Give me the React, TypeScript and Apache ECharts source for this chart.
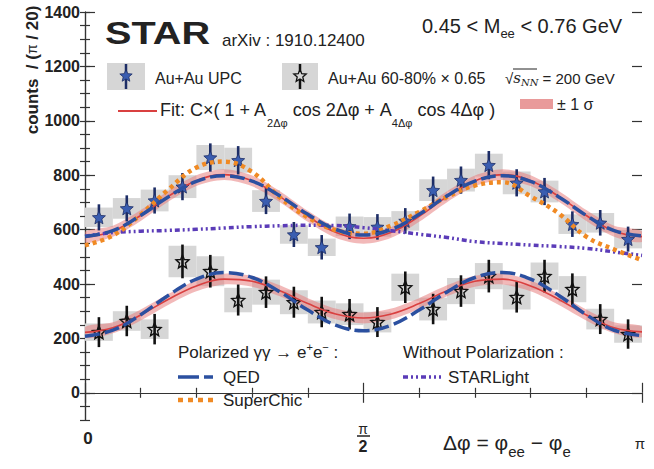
import React, { useEffect, useRef } from 'react';
import * as echarts from 'echarts';

// ---------------- data ----------------
const NBINS = 20;
const BIN_W = Math.PI / NBINS;
const binCenters = Array.from({ length: NBINS }, (_, i) => (i + 0.5) * BIN_W);
const curveX = Array.from({ length: 21 }, (_, k) => k * BIN_W);

// Au+Au UPC
const upcValues = [645, 678, 707, 758, 865, 855, 705, 582, 535, 612, 610, 632, 745, 782, 837, 772, 740, 620, 625, 565];
const upcStat = [48, 48, 48, 50, 52, 52, 48, 46, 45, 47, 47, 47, 50, 50, 52, 50, 50, 47, 47, 46];
const upcSys = [36, 38, 40, 42, 46, 46, 40, 34, 32, 36, 36, 36, 40, 42, 42, 42, 40, 36, 36, 34];

// Au+Au 60-80% x 0.65
const perValues = [223, 264, 234, 483, 447, 341, 370, 333, 297, 289, 260, 388, 308, 374, 429, 352, 429, 381, 271, 216];
const perStat = [55, 56, 56, 62, 60, 57, 58, 57, 56, 56, 55, 58, 56, 58, 60, 57, 60, 58, 55, 54];
const perSys = [32, 36, 36, 58, 55, 45, 46, 44, 42, 40, 38, 50, 42, 48, 48, 46, 50, 48, 38, 32];

// curves sampled at k*pi/20
const fitUpper = [572, 594, 652, 723, 780, 802, 779, 721, 649, 590, 568, 590, 649, 721, 779, 802, 780, 723, 652, 594, 574];
const qedUpper = [575, 596, 652, 721, 777, 798, 778, 724, 656, 601, 580, 601, 656, 724, 778, 798, 777, 721, 652, 596, 577];
const fitLower = [222, 239, 286, 344, 393, 418, 410, 375, 328, 290, 275, 290, 328, 375, 410, 418, 393, 344, 286, 239, 224];
const qedLower = [208, 230, 287, 359, 418, 442, 424, 371, 304, 249, 228, 249, 304, 371, 424, 442, 418, 359, 287, 230, 210];
const superChic = [542, 578, 655, 748, 828, 850, 812, 718, 645, 598, 585, 615, 665, 720, 762, 774, 722, 660, 574, 527, 488];
const starLight = [576, 589, 594, 597, 601, 606, 611, 614, 616, 615, 607, 596, 583, 571, 556, 549, 543, 538, 531, 518, 505];
const fitBandHalf = 20;

const yTickLabels = [0, 200, 400, 600, 800, 1000, 1200, 1400];

// ---------------- styles ----------------
const FONT = "'Liberation Sans', Arial, Helvetica, sans-serif";
const INK = '#222';
const BLUE = '#2b50a0';
const STAR_BLUE = '#3a5db0';
const RED = '#d94040';
const PINK = 'rgba(232,128,128,0.55)';
const ORANGE = '#f08a24';
const PURPLE = '#5b3cb8';
const GRAY = '#d6d6d6';

const starPath =
  'path://M0,-10L2.65,-3.64L9.51,-3.09L4.28,1.39L5.88,8.09L0,4.5L-5.88,8.09L-4.28,1.39L-9.51,-3.09L-2.65,-3.64Z';

function starPts(cx: number, cy: number, R: number) {
  const pts: number[][] = [];
  for (let i = 0; i < 10; i++) {
    const r = i % 2 === 0 ? R : R * 0.45;
    const a = -Math.PI / 2 + (i * Math.PI) / 5;
    pts.push([cx + r * Math.cos(a), cy + r * Math.sin(a)]);
  }
  return pts;
}

function txt(text: string, x: number, y: number, size: number, o: any = {}) {
  const align = o.align || 'left';
  return {
    type: 'text',
    x,
    y,
    z: 100,
    silent: true,
    rotation: o.rotation || 0,
    scaleX: o.scaleX || 1,
    style: {
      text,
      fill: INK,
      fontSize: size,
      fontFamily: FONT,
      fontWeight: o.bold ? 'bold' : 'normal',
      textAlign: align,
      align,
      textVerticalAlign: 'middle',
      verticalAlign: 'middle',
      rich: o.rich,
    },
  };
}

const sysBoxes = (vals: number[], sys: number[]) => ({
  type: 'custom',
  silent: true,
  clip: true,
  data: vals.map((v, i) => [binCenters[i], v, sys[i]]),
  encode: { x: 0, y: 1 },
  renderItem: (_p: any, api: any) => {
    const x = api.value(0), y = api.value(1), s = api.value(2);
    const a = api.coord([x - BIN_W / 2, y + s]);
    const b = api.coord([x + BIN_W / 2, y - s]);
    return {
      type: 'rect',
      shape: { x: a[0], y: a[1], width: b[0] - a[0], height: b[1] - a[1] },
      style: { fill: GRAY },
    };
  },
});

const band = (center: number[]) => ({
  type: 'custom',
  silent: true,
  clip: true,
  data: [[curveX[0], center[0]]],
  encode: { x: 0, y: 1 },
  renderItem: (_p: any, api: any) => {
    const top = curveX.map((x, k) => api.coord([x, center[k] + fitBandHalf]));
    const bot = curveX.map((x, k) => api.coord([x, center[k] - fitBandHalf])).reverse();
    return {
      type: 'polygon',
      shape: { points: top.concat(bot), smooth: 0.3 },
      style: { fill: PINK },
    };
  },
});

const curve = (vals: number[], color: string, width: number, dash: any) => ({
  type: 'line',
  silent: true,
  smooth: 0.4,
  showSymbol: false,
  symbol: 'none',
  data: curveX.map((x, k) => [x, vals[k]]),
  lineStyle: { color, width, type: dash },
});

const errBars = (vals: number[], err: number[], color: string) => ({
  type: 'custom',
  silent: true,
  clip: true,
  data: vals.map((v, i) => [binCenters[i], v, err[i]]),
  encode: { x: 0, y: 1 },
  renderItem: (_p: any, api: any) => {
    const x = api.value(0), y = api.value(1), e = api.value(2);
    const p1 = api.coord([x, y - e]);
    const p2 = api.coord([x, y + e]);
    return {
      type: 'line',
      shape: { x1: p1[0], y1: p1[1], x2: p2[0], y2: p2[1] },
      style: { stroke: color, lineWidth: 2.6 },
    };
  },
});

const axisLineStyle = { color: '#333', width: 1.2 };

const option: any = {
  animation: false,
  backgroundColor: '#fff',
  textStyle: { fontFamily: FONT },
  grid: [
    { left: 85, right: 12, top: 12, bottom: 49 },
    { left: 85, right: 12, top: 12, height: (1400 / 1500) * 408 },
  ],
  xAxis: [
    {
      gridIndex: 0, type: 'value', position: 'bottom', min: 0, max: Math.PI, interval: Math.PI / 2,
      axisLine: { show: true, lineStyle: axisLineStyle },
      axisTick: { show: true, inside: true, length: 10, lineStyle: axisLineStyle },
      minorTick: { show: true, splitNumber: 5, length: 5, lineStyle: axisLineStyle },
      axisLabel: { show: false }, splitLine: { show: false }, minorSplitLine: { show: false },
    },
    {
      gridIndex: 0, type: 'value', position: 'top', min: 0, max: Math.PI, interval: Math.PI / 2,
      axisLine: { show: true, lineStyle: axisLineStyle },
      axisTick: { show: true, inside: true, length: 10, lineStyle: axisLineStyle },
      minorTick: { show: true, splitNumber: 5, length: 5, lineStyle: axisLineStyle },
      axisLabel: { show: false }, splitLine: { show: false },
    },
    { gridIndex: 1, type: 'value', min: 0, max: Math.PI, show: false },
  ],
  yAxis: [
    {
      gridIndex: 0, type: 'value', position: 'left', min: -100, max: 1400, interval: 50,
      axisLine: { show: true, lineStyle: axisLineStyle },
      axisTick: { show: true, inside: true, length: 5, lineStyle: axisLineStyle },
      axisLabel: { show: false }, splitLine: { show: false },
    },
    {
      gridIndex: 0, type: 'value', position: 'right', min: -100, max: 1400, interval: 50,
      axisLine: { show: true, lineStyle: axisLineStyle },
      axisTick: { show: true, inside: true, length: 5, lineStyle: axisLineStyle },
      axisLabel: { show: false }, splitLine: { show: false },
    },
    {
      gridIndex: 1, type: 'value', position: 'left', min: yTickLabels[0], max: yTickLabels[yTickLabels.length - 1], interval: 200,
      axisLine: { show: false },
      axisTick: { show: true, inside: true, length: 10, lineStyle: axisLineStyle },
      axisLabel: {
        show: true, margin: 5, color: INK, fontSize: 16, fontWeight: 'bold', fontFamily: FONT,
        formatter: (v: number) => String(Math.round(v)),
      },
      splitLine: { show: false },
    },
    {
      gridIndex: 1, type: 'value', position: 'right', min: 0, max: 1400, interval: 200,
      axisLine: { show: false },
      axisTick: { show: true, inside: true, length: 10, lineStyle: axisLineStyle },
      axisLabel: { show: false }, splitLine: { show: false },
    },
  ],
  series: [
    sysBoxes(upcValues, upcSys),
    sysBoxes(perValues, perSys),
    band(fitUpper),
    band(fitLower),
    curve(fitUpper, RED, 1.6, 'solid'),
    curve(fitLower, RED, 1.6, 'solid'),
    curve(starLight, PURPLE, 3.5, [5, 3, 2, 3, 2, 3]),
    curve(superChic, ORANGE, 4.5, [4, 4]),
    curve(qedUpper, BLUE, 3.5, [15, 5]),
    curve(qedLower, BLUE, 3.5, [15, 5]),
    errBars(upcValues, upcStat, '#1d2d66'),
    errBars(perValues, perStat, '#111'),
    {
      type: 'scatter', silent: true, symbol: starPath, symbolSize: 13,
      data: upcValues.map((v, i) => [binCenters[i], v]),
      itemStyle: { color: STAR_BLUE, borderColor: '#1d2d66', borderWidth: 0.8, opacity: 1 },
    },
    {
      type: 'scatter', silent: true, symbol: starPath, symbolSize: 13,
      data: perValues.map((v, i) => [binCenters[i], v]),
      itemStyle: { color: 'rgba(255,255,255,0)', borderColor: '#111', borderWidth: 1.4, opacity: 1 },
    },
  ],
  graphic: [
    // y-axis title
    txt('{b|counts  / (}{p|π}{b| / 20)}', 32, 70, 17, {
      align: 'center', rotation: Math.PI / 2,
      rich: {
        b: { fontSize: 17, fontWeight: 'bold', fontFamily: FONT, fill: INK },
        p: { fontSize: 14, fontFamily: FONT, fill: INK },
      },
    }),
    // x-axis labels
    txt('0', 88, 438, 17, { bold: true, align: 'center' }),
    txt('π', 363, 429, 14, { align: 'center' }),
    { type: 'line', z: 100, silent: true, shape: { x1: 357, y1: 436, x2: 370, y2: 436 }, style: { stroke: INK, lineWidth: 1.5 } },
    txt('2', 363, 446, 16, { bold: true, align: 'center' }),
    txt('π', 640, 443, 15, { align: 'center' }),
    txt('{t|Δφ = φ}{s|ee}{t| − φ}{s|e}', 443, 442, 21, {
      rich: {
        t: { fontSize: 21, fontFamily: FONT, fill: INK },
        s: { fontSize: 15, fontFamily: FONT, fill: INK, padding: [18, 0, 0, 0] },
      },
    }),
    // header
    txt('STAR', 105, 34, 31, { bold: true, scaleX: 1.28 }),
    txt('arXiv : 1910.12400', 222, 40, 17),
    txt('{t|0.45 < M}{s|ee}{t| < 0.76 GeV}', 422, 26, 20, {
      rich: {
        t: { fontSize: 20, fontFamily: FONT, fill: INK },
        s: { fontSize: 13, fontFamily: FONT, fill: INK, padding: [14, 0, 0, 0] },
      },
    }),
    // legend row 1
    { type: 'rect', z: 100, silent: true, shape: { x: 107, y: 63, width: 38, height: 27 }, style: { fill: GRAY } },
    { type: 'line', z: 100, silent: true, shape: { x1: 126, y1: 64, x2: 126, y2: 89 }, style: { stroke: '#1d2d66', lineWidth: 2.5 } },
    { type: 'polygon', z: 101, silent: true, shape: { points: starPts(126, 76, 6.5) }, style: { fill: STAR_BLUE, stroke: '#1d2d66', lineWidth: 0.8 } },
    txt('Au+Au UPC', 155, 78, 16),
    { type: 'rect', z: 100, silent: true, shape: { x: 282, y: 63, width: 36, height: 27 }, style: { fill: GRAY } },
    { type: 'line', z: 100, silent: true, shape: { x1: 300, y1: 64, x2: 300, y2: 89 }, style: { stroke: '#111', lineWidth: 2.5 } },
    { type: 'polygon', z: 101, silent: true, shape: { points: starPts(300, 76, 6.5) }, style: { fill: GRAY, stroke: '#111', lineWidth: 1.3 } },
    txt('Au+Au 60-80% × 0.65', 328, 78, 16),
    txt('{t|√}{i|s}{s|NN}{t| = 200 GeV}', 505, 78, 15, {
      rich: {
        t: { fontSize: 15, fontFamily: FONT, fill: INK },
        i: { fontSize: 15, fontFamily: "'DejaVu Serif', serif", fontStyle: 'italic', fill: INK },
        s: { fontSize: 10, fontFamily: "'DejaVu Serif', serif", fontStyle: 'italic', fill: INK, padding: [8, 0, 0, 0] },
      },
    }),
    { type: 'line', z: 100, silent: true, shape: { x1: 513, y1: 69, x2: 537, y2: 69 }, style: { stroke: INK, lineWidth: 1 } },
    // legend row 2
    { type: 'line', z: 100, silent: true, shape: { x1: 118, y1: 111, x2: 157, y2: 111 }, style: { stroke: RED, lineWidth: 2 } },
    txt('{t|Fit: C×( 1 + A}{s|2Δφ}{t| cos 2Δφ + A}{s|4Δφ}{t| cos 4Δφ )}', 160, 110, 18, {
      rich: {
        t: { fontSize: 18, fontFamily: FONT, fill: INK },
        s: { fontSize: 11, fontFamily: FONT, fill: INK, padding: [26, 0, 0, 0] },
      },
    }),
    { type: 'rect', z: 100, silent: true, shape: { x: 520, y: 99, width: 33, height: 10 }, style: { fill: '#e99a9a' } },
    txt('± 1 σ', 557, 104, 16),
    // bottom legend
    txt('{t|Polarized γγ → e}{u|+}{t|e}{u|−}{t| :}', 178, 352, 17, {
      rich: {
        t: { fontSize: 17, fontFamily: FONT, fill: INK },
        u: { fontSize: 11, fontFamily: FONT, fill: INK, padding: [0, 0, 10, 0] },
      },
    }),
    { type: 'line', z: 100, silent: true, shape: { x1: 178, y1: 377, x2: 218, y2: 377 }, style: { stroke: BLUE, lineWidth: 3.5, lineDash: [21, 5, 9, 5] } },
    txt('QED', 223, 377, 17),
    { type: 'line', z: 100, silent: true, shape: { x1: 178, y1: 400, x2: 218, y2: 400 }, style: { stroke: ORANGE, lineWidth: 4.5, lineDash: [5, 5] } },
    txt('SuperChic', 223, 400, 17),
    txt('Without Polarization :', 403, 352, 17),
    { type: 'line', z: 100, silent: true, shape: { x1: 403, y1: 377, x2: 441, y2: 377 }, style: { stroke: PURPLE, lineWidth: 3.5, lineDash: [5, 3, 2, 3, 2, 3] } },
    txt('STARLight', 448, 377, 17),
  ],
};

export default function App() {
  const ref = useRef<HTMLDivElement>(null);
  useEffect(() => {
    document.body.style.margin = '0';
    const chart = echarts.init(ref.current!, null, { renderer: 'svg' });
    chart.setOption(option);
    return () => chart.dispose();
  }, []);
  return (
    <div
      ref={ref}
      style={{ position: 'fixed', left: 0, top: 0, width: 654, height: 469, background: '#fff' }}
    />
  );
}
